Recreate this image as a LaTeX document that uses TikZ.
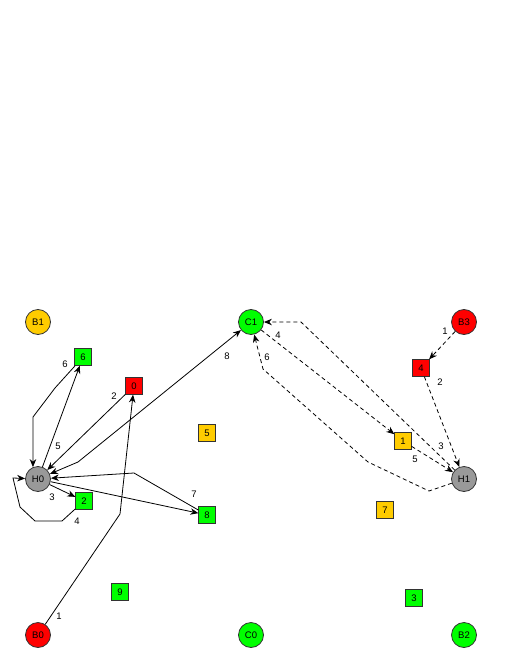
\documentclass[tikz,border=0pt]{standalone}
\usepackage{fontspec}
\setmainfont{Liberation Sans}
\usetikzlibrary{arrows.meta,positioning}
\definecolor{nodeyellow}{HTML}{FFCC00}
\definecolor{nodegreen}{HTML}{00FF00}
\definecolor{nodered}{HTML}{FF0000}
\definecolor{nodegray}{HTML}{999999}
\tikzset{
  >={Stealth[length=8pt,width=6.5pt]},
  netdiag/.style={font=\fontsize{9.5}{11}\selectfont, line width=0.8pt, x=1pt, y=-1pt},
  station/.style={circle, draw=black!80, minimum size=25pt, inner sep=0pt},
  packet/.style={rectangle, draw=black!80, minimum size=16.5pt, inner sep=0pt},
  arrow/.style={->},
  dasharrow/.style={->, dash pattern=on 4pt off 3pt},
  lbl/.style={inner sep=0pt}
}

\begin{document}
\begin{tikzpicture}[netdiag]
\useasboundingbox (0,0) rectangle (510,660);

% 1 : stations
\node[station, fill=nodeyellow] (B1) at (38,322) {B1};
\node[station, fill=nodegreen]  (C1) at (251,322) {C1};
\node[station, fill=nodered]    (B3) at (464,322) {B3};
\node[station, fill=nodegray]   (H0) at (38,479) {H0};
\node[station, fill=nodegray]   (H1) at (464,479) {H1};
\node[station, fill=nodered]    (B0) at (38,635) {B0};
\node[station, fill=nodegreen]  (C0) at (251,635) {C0};
\node[station, fill=nodegreen]  (B2) at (464,635) {B2};

% 2 : packets
\node[packet, fill=nodegreen]  (p6) at (83,357) {6};
\node[packet, fill=nodered]    (p0) at (134,386) {0};
\node[packet, fill=nodeyellow] (p5) at (207,433) {5};
\node[packet, fill=nodegreen]  (p2) at (84,501) {2};
\node[packet, fill=nodegreen]  (p8) at (207,515) {8};
\node[packet, fill=nodered]    (p4) at (421,368) {4};
\node[packet, fill=nodeyellow] (p1) at (403,441) {1};
\node[packet, fill=nodeyellow] (p7) at (385,510) {7};
\node[packet, fill=nodegreen]  (p9) at (120,592) {9};
\node[packet, fill=nodegreen]  (p3) at (414,598) {3};

% 3 : solid route (left)
\draw[arrow] (B0) -- (120,514) -- (p0);
\draw[arrow] (p0) -- (H0);
\draw[arrow] (H0) -- (p2);
\draw[arrow] (p2) -- (62,521) -- (35,521) -- (20,507) -- (13,478) -- (H0);
\draw[arrow] (H0) -- (p6);
\draw[arrow] (p6) -- (55,388) -- (33,417) -- (H0.113);
\draw[arrow] (H0) -- (p8);
\draw[arrow] (p8) -- (134,473) -- (H0);
\draw[<->] (H0) -- (78,462) -- (C1);

\node[lbl] (l1) at (59,616) {1};
\node[lbl] (l2) at (114,396) {2};
\node[lbl] (l3) at (52,497) {3};
\node[lbl] (l4) at (77,521) {4};
\node[lbl] (l5) at (58,446) {5};
\node[lbl] (l6) at (65,364) {6};
\node[lbl] (l7) at (194,494) {7};
\node[lbl] (l8) at (227,356) {8};

% 4 : dashed route (right)
\draw[dasharrow] (B3) -- (p4);
\draw[dasharrow] (p4) -- (H1);
\draw[dasharrow] (H1) -- (301,322) -- (C1);
\draw[dasharrow] (C1) -- (p1);
\draw[dasharrow] (p1) -- (H1);
\draw[dasharrow] (H1) -- (429,491) -- (368,462) -- (263,369) -- (C1);

\node[lbl] (r1) at (445,331) {1};
\node[lbl] (r2) at (440,382) {2};
\node[lbl] (r3) at (441,446) {3};
\node[lbl] (r4) at (278,335) {4};
\node[lbl] (r5) at (415,459) {5};
\node[lbl] (r6) at (267,357) {6};

\end{tikzpicture}
\end{document}
